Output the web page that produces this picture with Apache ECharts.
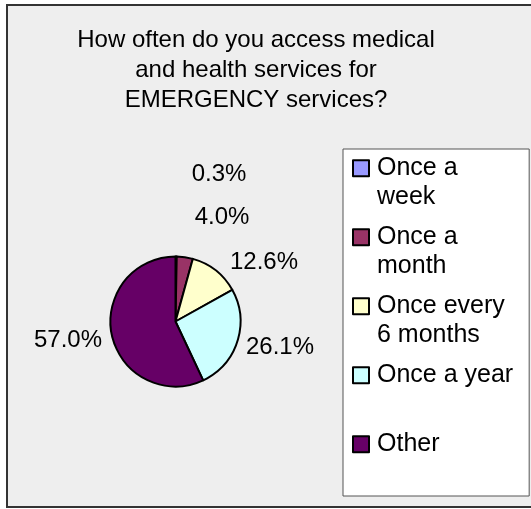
<!DOCTYPE html>
<html>
<head>
<meta charset="utf-8">
<script src="https://cdn.jsdelivr.net/npm/echarts@6/dist/echarts.min.js"></script>
<style>
  html, body { margin: 0; padding: 0; background: #ffffff; }
  #chart { width: 531px; height: 509px; }
</style>
</head>
<body>
<div id="chart"></div>
<script>
// Survey answers: how often emergency medical / health services are used
const categories = ['Once a week', 'Once a month', 'Once every 6 months', 'Once a year', 'Other'];
const shares = [0.3, 4.0, 12.6, 26.1, 57.0];
const legendLines = ['Once a\nweek', 'Once a\nmonth', 'Once every\n6 months', 'Once a year\n ', 'Other\n '];
const sliceColors = ['#9999FF', '#993366', '#FFFFCC', '#CCFFFF', '#660066'];
const titleText = 'How often do you access medical\nand health services for\nEMERGENCY services?';

// Where each percentage label sits (label centres, px)
const labelSpots = [[219, 174], [222, 217], [264, 262], [280, 347], [68, 340]];

const FONT = '"Liberation Sans", Arial, sans-serif';
const LEGEND_LH = 28.5;
// square marker on the first text line; the lone point stretches the icon box
const legendIcon = 'path://M0,0L16,0L16,16L0,16Z M19,' + (LEGEND_LH + 16);

const chart = echarts.init(document.getElementById('chart'), null, { renderer: 'canvas' });

chart.setOption({
  animation: false,
  backgroundColor: '#ffffff',
  graphic: [
    {
      type: 'rect',
      z: -10,
      shape: { x: 7, y: 5, width: 540, height: 502 },
      style: { fill: '#EEEEEE', stroke: '#333333', lineWidth: 2 }
    },
    {
      type: 'text',
      z: 10,
      x: 256,
      y: 25,
      style: {
        text: titleText,
        font: '24px ' + FONT,
        fill: '#000000',
        align: 'center',
        verticalAlign: 'top',
        lineHeight: 30
      }
    }
  ],
  legend: {
    orient: 'vertical',
    left: 343,
    top: 149,
    padding: [5, 16, 9, 9],
    itemGap: 12,
    itemWidth: 19,
    itemHeight: LEGEND_LH + 16,
    icon: legendIcon,
    selectedMode: false,
    backgroundColor: '#ffffff',
    borderColor: '#555555',
    borderWidth: 1,
    itemStyle: { borderColor: '#000000', borderWidth: 2 },
    textStyle: {
      fontFamily: FONT,
      fontSize: 25,
      color: '#000000',
      lineHeight: LEGEND_LH
    },
    formatter: function (name) {
      return legendLines[categories.indexOf(name)];
    },
    data: categories
  },
  series: [
    {
      type: 'pie',
      center: [175.5, 321.5],
      radius: 65,
      startAngle: 90,
      clockwise: true,
      avoidLabelOverlap: false,
      minAngle: 0,
      emphasis: { disabled: true },
      itemStyle: { borderColor: '#000000', borderWidth: 2 },
      label: {
        show: true,
        position: 'outside',
        fontFamily: FONT,
        fontSize: 24,
        color: '#000000',
        formatter: function (p) { return p.value.toFixed(1) + '%'; }
      },
      labelLine: { show: false },
      labelLayout: function (p) {
        const s = labelSpots[p.dataIndex];
        return { x: s[0], y: s[1], align: 'center', verticalAlign: 'middle' };
      },
      data: categories.map(function (name, i) {
        return { name: name, value: shares[i], itemStyle: { color: sliceColors[i] } };
      })
    }
  ]
});
</script>
</body>
</html>
